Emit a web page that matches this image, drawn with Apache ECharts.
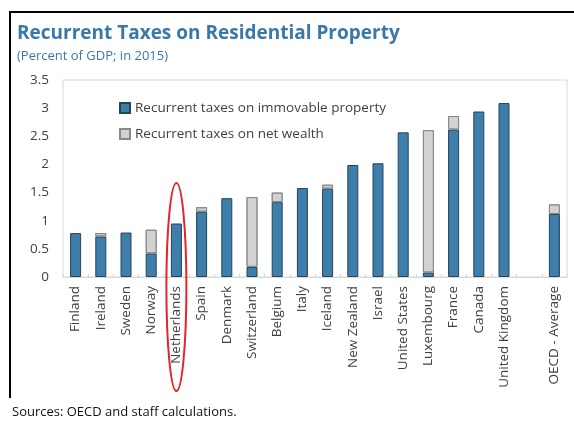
<!DOCTYPE html>
<html>
<head>
<meta charset="utf-8">
<script src="https://cdn.jsdelivr.net/npm/echarts@6/dist/echarts.min.js"></script>
<style>html,body{margin:0;padding:0;background:#fff;}#c{width:574px;height:425px;}</style>
</head>
<body>
<div id="c"></div>
<script>
var categories = ['Finland','Ireland','Sweden','Norway','Netherlands','Spain','Denmark','Switzerland','Belgium','Italy','Iceland','New Zealand','Israel','United States','Luxembourg','France','Canada','United Kingdom','','OECD - Average'];
var immovable = [0.78,0.72,0.79,0.42,0.95,1.16,1.40,0.18,1.33,1.58,1.57,1.99,2.02,2.57,0.08,2.62,2.94,3.09,null,1.12];
var netWealth = [null,0.06,null,0.42,null,0.08,null,1.24,0.17,null,0.07,null,null,null,2.53,0.24,null,null,null,0.17];
var yTicks = ['0','0.5','1','1.5','2','2.5','3','3.5'];
var seriesNames = ['Recurrent taxes on immovable property','Recurrent taxes on net wealth'];

var FONT = '"Open Sans", "Liberation Sans", sans-serif';
var chart = echarts.init(document.getElementById('c'), null, {renderer:'canvas'});
var option = {
  animation:false,
  textStyle:{fontFamily:FONT},
  grid:{left:63,right:7,top:80,bottom:148,show:true,borderColor:'#d9d9d9',borderWidth:1},
  legend:{
    orient:'vertical', left:114, top:96, itemGap:12, itemWidth:10, itemHeight:10,
    icon:'rect', textStyle:{fontSize:13.5,color:'#404040',fontFamily:FONT},
    data:seriesNames
  },
  xAxis:{
    type:'category', data:categories,
    axisLine:{lineStyle:{color:'#d9d9d9'}},
    axisTick:{show:true,inside:true,length:3,lineStyle:{color:'#d9d9d9'}},
    axisLabel:{rotate:90,interval:0,fontSize:13.5,color:'#404040',margin:9,fontFamily:FONT}
  },
  yAxis:{
    type:'value', min:0, max:3.5, interval:0.5,
    axisLine:{show:false}, axisTick:{show:false}, splitLine:{show:false},
    axisLabel:{fontSize:13.5,color:'#404040',margin:14,fontFamily:FONT,formatter:function(v){return yTicks[Math.round(v/0.5)];}}
  },
  series:[
    {name:seriesNames[0],type:'bar',stack:'t',data:immovable,barWidth:11,
     itemStyle:{color:'#3d7eab',borderColor:'#24445c',borderWidth:1}},
    {name:seriesNames[1],type:'bar',stack:'t',data:netWealth,barWidth:11,
     itemStyle:{color:'#d4d4d4',borderColor:'#8a8a8a',borderWidth:1,
       decal:{symbol:'rect',symbolSize:0.5,dashArrayX:[1,1],dashArrayY:[1,1],color:'rgba(150,150,150,0.5)'}}}
  ]
};
chart.setOption(option);
var cx = chart.convertToPixel({xAxisIndex:0}, 'Netherlands');
chart.setOption({graphic:[
  {type:'text',left:17,top:24,style:{text:'Recurrent Taxes on Residential Property',fill:'#3a78a8',font:'bold 19px '+FONT}},
  {type:'text',left:17,top:50,style:{text:'(Percent of GDP; in 2015)',fill:'#3a78a8',font:'13px '+FONT}},
  {type:'text',left:12,top:406,style:{text:'Sources: OECD and staff calculations.',fill:'#111',font:'13px '+FONT}},
  {type:'line',shape:{x1:9,y1:12,x2:574,y2:12},style:{stroke:'#000',lineWidth:2}},
  {type:'line',shape:{x1:10,y1:11,x2:10,y2:398},style:{stroke:'#000',lineWidth:2}},
  {type:'ellipse',shape:{cx:cx,cy:287,rx:10,ry:104},style:{fill:'none',stroke:'#e3262b',lineWidth:2},z:100}
]});
</script>
</body>
</html>
